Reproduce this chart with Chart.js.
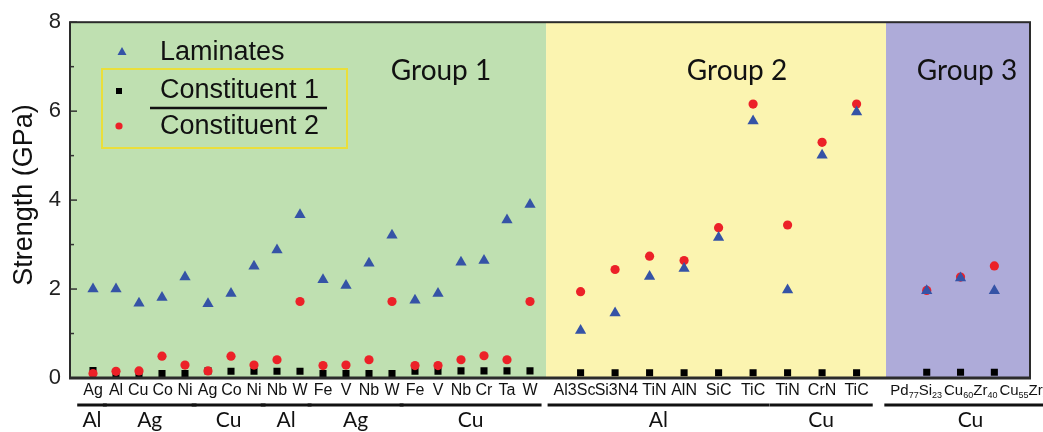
<!DOCTYPE html>
<html lang="en">
<head>
    <meta charset="UTF-8">
    <title>Strength of laminates and constituents</title>
    <script src="https://cdn.jsdelivr.net/npm/chart.js"></script>
    <style>
        body { margin: 0; background: #fff; }
        #wrap { width: 1043px; height: 432px; }
    </style>
</head>
<body>
    <div id="wrap"><canvas id="strengthChart"></canvas></div>

    <script>
        // Categories (layer material) per group
        const group1Labels = ['Ag', 'Al', 'Cu', 'Co', 'Ni', 'Ag', 'Co', 'Ni', 'Nb', 'W', 'Fe', 'V', 'Nb', 'W', 'Fe', 'V', 'Nb', 'Cr', 'Ta', 'W'];
        const group2Labels = ['Al3Sc', 'Si3N4', 'TiN', 'AlN', 'SiC', 'TiC', 'TiN', 'CrN', 'TiC'];
        const group3Labels = ['Pd77Si23', 'Cu60Zr40', 'Cu55Zr45'];

        // Matrix (second material) spans: [group, first index, last index]
        const matrixLabels = ['Al', 'Ag', 'Cu', 'Al', 'Ag', 'Cu', 'Al', 'Cu', 'Cu'];
        const matrixSpans = [[1, 0, 0], [1, 1, 4], [1, 5, 7], [1, 8, 9], [1, 10, 13], [1, 14, 19], [2, 0, 5], [2, 6, 8], [3, 0, 2]];

        // Strength (GPa)
        const laminates1 = [2.00, 2.00, 1.68, 1.81, 2.27, 1.67, 1.90, 2.51, 2.88, 3.67, 2.21, 2.08, 2.58, 3.21, 1.75, 1.90, 2.60, 2.64, 3.55, 3.90];
        const constituent2_1 = [0.10, 0.15, 0.16, 0.49, 0.29, 0.16, 0.49, 0.29, 0.41, 1.72, 0.28, 0.29, 0.41, 1.72, 0.28, 0.28, 0.41, 0.50, 0.41, 1.72];
        const constituent1_1 = [0.17, 0.09, 0.09, 0.10, 0.10, 0.16, 0.15, 0.15, 0.15, 0.15, 0.10, 0.10, 0.10, 0.10, 0.15, 0.15, 0.16, 0.16, 0.16, 0.16];

        const laminates2 = [1.07, 1.46, 2.28, 2.46, 3.16, 5.78, 1.98, 5.01, 5.98];
        const constituent2_2 = [1.94, 2.44, 2.74, 2.64, 3.38, 6.16, 3.44, 5.30, 6.16];
        const constituent1_2 = [0.12, 0.12, 0.12, 0.12, 0.12, 0.12, 0.12, 0.12, 0.12];

        const laminates3 = [1.96, 2.25, 1.96];
        const constituent2_3 = [1.97, 2.27, 2.52];
        const constituent1_3 = [0.13, 0.13, 0.13];

        const yTicks = [0, 2, 4, 6, 8];
        const groupTitles = ['Group 1', 'Group 2', 'Group 3'];

        // x positions (axis units): group 1 one unit apart, groups 2 and 3 wider
        function xPos(group, i) {
            if (group === 1) return i + 1;
            if (group === 2) return 22.2 + i * 1.5;
            return 37.25 + i * 1.47;
        }
        const X_MAX = 41.74;
        const BOUND_1 = 20.7;
        const BOUND_2 = 35.48;

        function pts(group, values) {
            return values.map((v, i) => ({ x: xPos(group, i), y: v }));
        }

        const lamPts = [...pts(1, laminates1), ...pts(2, laminates2), ...pts(3, laminates3)];
        const c2Pts = [...pts(1, constituent2_1), ...pts(2, constituent2_2), ...pts(3, constituent2_3)];
        const c1Pts = [...pts(1, constituent1_1), ...pts(2, constituent1_2), ...pts(3, constituent1_3)];

        const ARIAL = '"Liberation Sans", Arial, sans-serif';
        const CALIBRI = 'Lato, "Open Sans", sans-serif';
        const BLUE = '#3553a6';
        const RED = '#ec2128';

        const decorPlugin = {
            id: 'decor',
            beforeDatasetsDraw(chart) {
                const { ctx, chartArea: a, scales: { x } } = chart;
                const b1 = x.getPixelForValue(BOUND_1);
                const b2 = x.getPixelForValue(BOUND_2);
                ctx.save();
                ctx.fillStyle = '#bfe0b1';
                ctx.fillRect(a.left, a.top, b1 - a.left, a.bottom - a.top);
                ctx.fillStyle = '#fbf4b0';
                ctx.fillRect(b1, a.top, b2 - b1, a.bottom - a.top);
                ctx.fillStyle = '#aeabd9';
                ctx.fillRect(b2, a.top, a.right - b2, a.bottom - a.top);
                ctx.restore();
            },
            afterDatasetsDraw(chart) {
                const { ctx, chartArea: a, scales: { x, y } } = chart;
                ctx.save();

                // inward ticks on the left axis
                ctx.strokeStyle = '#333';
                ctx.lineWidth = 1.5;
                for (let v = 0; v <= 8; v++) {
                    const py = y.getPixelForValue(v);
                    const len = v % 2 === 0 ? 7 : 4;
                    ctx.beginPath();
                    ctx.moveTo(a.left, py);
                    ctx.lineTo(a.left + len, py);
                    ctx.stroke();
                }

                // frame
                ctx.lineWidth = 2;
                ctx.strokeStyle = '#2b2b2b';
                ctx.strokeRect(a.left, a.top, a.right - a.left, a.bottom - a.top);
                ctx.beginPath();
                ctx.lineWidth = 3;
                ctx.moveTo(a.left - 1, a.bottom);
                ctx.lineTo(a.right + 1, a.bottom);
                ctx.stroke();

                // group titles
                ctx.fillStyle = '#111';
                ctx.font = '28px ' + CALIBRI;
                ctx.textAlign = 'center';
                ctx.textBaseline = 'alphabetic';
                ctx.fillText(groupTitles[0], 441, 80);
                ctx.fillText(groupTitles[1], 737, 80);
                ctx.fillText(groupTitles[2], 967, 80);

                // legend
                ctx.fillStyle = BLUE;
                ctx.beginPath();
                ctx.moveTo(122, 47);
                ctx.lineTo(126.5, 55);
                ctx.lineTo(117.5, 55);
                ctx.closePath();
                ctx.fill();
                ctx.fillStyle = '#000';
                ctx.fillRect(116, 88, 6, 6);
                ctx.fillStyle = RED;
                ctx.beginPath();
                ctx.arc(119, 126, 3.6, 0, Math.PI * 2);
                ctx.fill();

                ctx.strokeStyle = '#eadf3a';
                ctx.lineWidth = 2;
                ctx.strokeRect(102, 69, 245, 79);

                ctx.fillStyle = '#111';
                ctx.font = '27px ' + ARIAL;
                ctx.textAlign = 'left';
                ctx.textBaseline = 'middle';
                ctx.fillText('Laminates', 160, 53);
                ctx.fillText('Constituent 1', 160, 91);
                ctx.fillText('Constituent 2', 160, 127);
                ctx.strokeStyle = '#111';
                ctx.lineWidth = 2.5;
                ctx.beginPath();
                ctx.moveTo(150, 108);
                ctx.lineTo(327, 108);
                ctx.stroke();

                // y title
                ctx.save();
                ctx.translate(25, 195);
                ctx.rotate(-Math.PI / 2);
                ctx.textAlign = 'center';
                ctx.font = '27px ' + ARIAL;
                ctx.fillText('Strength (GPa)', 0, 0);
                ctx.restore();

                // category labels, nudged apart where they would collide
                const labelY = 391;
                const extents = { 1: [], 2: [], 3: [] };
                ctx.font = '16px ' + ARIAL;
                ctx.textAlign = 'center';
                ctx.textBaseline = 'middle';
                [[1, group1Labels], [2, group2Labels]].forEach(([g, labels]) => {
                    const boxes = labels.map((lab, i) => {
                        const px = x.getPixelForValue(xPos(g, i));
                        const w = ctx.measureText(lab).width;
                        return { lab, c: px, w };
                    });
                    for (let i = 1; i < boxes.length; i++) {
                        const p = boxes[i - 1], q = boxes[i];
                        const overlap = (p.c + p.w / 2 + 4) - (q.c - q.w / 2);
                        if (overlap > 0) {
                            p.c -= overlap / 2;
                            q.c += overlap / 2;
                        }
                    }
                    boxes.forEach((b, i) => {
                        ctx.fillText(b.lab, b.c, labelY);
                        extents[g][i] = [b.c - b.w / 2, b.c + b.w / 2];
                    });
                });

                // group 3 labels with subscripts, laid out side by side
                const parts = group3Labels.map(s => s.match(/[A-Za-z]+|\d+/g).map(t => [t, /\d/.test(t)]));
                const measure = (tokens) => tokens.reduce((sum, [t, sub]) => {
                    ctx.font = (sub ? '9px ' : '15px ') + ARIAL;
                    return sum + ctx.measureText(t).width;
                }, 0);
                const widths = parts.map(measure);
                const gap = 2;
                const total = widths.reduce((s, w) => s + w, 0) + gap * (widths.length - 1);
                let cx = x.getPixelForValue(xPos(3, 1)) + 11 - total / 2;
                ctx.textAlign = 'left';
                parts.forEach((tokens, i) => {
                    extents[3][i] = [cx, cx + widths[i]];
                    tokens.forEach(([t, sub]) => {
                        ctx.font = (sub ? '9px ' : '15px ') + ARIAL;
                        ctx.fillText(t, cx, sub ? labelY + 5 : labelY);
                        cx += ctx.measureText(t).width;
                    });
                    cx += gap;
                });

                // matrix bars and labels
                ctx.fillStyle = '#111';
                ctx.strokeStyle = '#111';
                ctx.lineWidth = 3;
                ctx.textAlign = 'center';
                ctx.font = '21px ' + CALIBRI;
                matrixSpans.forEach(([g, i0, i1], k) => {
                    const left = extents[g][i0][0] - 6;
                    const right = extents[g][i1][1] + 4;
                    ctx.beginPath();
                    ctx.moveTo(left, 405);
                    ctx.lineTo(right, 405);
                    ctx.stroke();
                    ctx.fillText(matrixLabels[k], (left + right) / 2, 420);
                });

                ctx.restore();
            }
        };

        const ctx = document.getElementById('strengthChart').getContext('2d');
        const strengthChart = new Chart(ctx, {
            type: 'scatter',
            data: {
                datasets: [
                    {
                        label: 'Laminates',
                        data: lamPts,
                        pointStyle: 'triangle',
                        pointRadius: 6.5,
                        backgroundColor: BLUE,
                        borderColor: BLUE,
                        borderWidth: 0
                    },
                    {
                        label: 'Constituent 2',
                        data: c2Pts,
                        pointStyle: 'circle',
                        pointRadius: 4.6,
                        backgroundColor: RED,
                        borderColor: RED,
                        borderWidth: 0
                    },
                    {
                        label: 'Constituent 1',
                        data: c1Pts,
                        pointStyle: 'rect',
                        pointRadius: 5,
                        backgroundColor: '#000',
                        borderColor: '#000',
                        borderWidth: 0
                    }
                ]
            },
            options: {
                responsive: true,
                maintainAspectRatio: false,
                animation: false,
                layout: {
                    padding: { top: 18, right: 13, bottom: 54, left: 0 }
                },
                plugins: {
                    legend: { display: false },
                    tooltip: { enabled: false }
                },
                scales: {
                    x: {
                        type: 'linear',
                        min: 0,
                        max: X_MAX,
                        display: false
                    },
                    y: {
                        min: 0,
                        max: 8,
                        afterBuildTicks: (scale) => {
                            scale.ticks = yTicks.map(v => ({ value: v }));
                        },
                        afterFit: (scale) => {
                            scale.width = 70;
                        },
                        ticks: {
                            color: '#222',
                            padding: 9,
                            font: { family: ARIAL, size: 22 }
                        },
                        grid: { display: false, drawTicks: false },
                        border: { display: false }
                    }
                }
            },
            plugins: [decorPlugin]
        });
    </script>
</body>
</html>
